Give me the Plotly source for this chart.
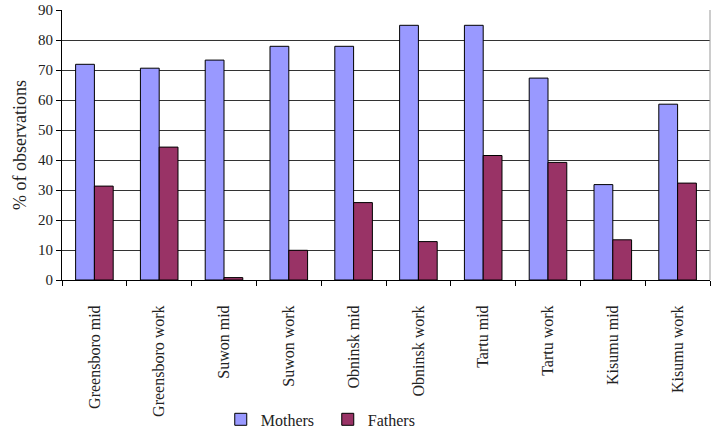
import plotly.graph_objects as go

categories = ["Greensboro mid", "Greensboro work", "Suwon mid", "Suwon work", "Obninsk mid",
              "Obninsk work", "Tartu mid", "Tartu work", "Kisumu mid", "Kisumu work"]
mothers = [71.9, 70.6, 73.3, 77.9, 77.9, 84.9, 84.9, 67.3, 31.8, 58.6]
fathers = [31.3, 44.3, 0.8, 9.9, 25.8, 12.8, 41.5, 39.2, 13.4, 32.3]

FONT = "Liberation Serif"

fig = go.Figure()
fig.add_trace(go.Bar(x=categories, y=mothers, name="Mothers",
                     marker=dict(color="#9999FF", line=dict(color="#000000", width=1))))
fig.add_trace(go.Bar(x=categories, y=fathers, name="Fathers",
                     marker=dict(color="#993366", line=dict(color="#000000", width=1))))

fig.update_layout(
    width=718, height=429,
    margin=dict(l=62, r=8, t=10, b=149),
    paper_bgcolor="white", plot_bgcolor="white",
    barmode="group", bargap=0.42, bargroupgap=0,
    font=dict(family=FONT, size=15, color="#222222"),
    showlegend=True,
    legend=dict(orientation="h", x=0.245, xanchor="left", yref="container", y=0.062,
                yanchor="top", font=dict(family=FONT, size=16), entrywidth=62,
                bgcolor="rgba(0,0,0,0)"),
    xaxis=dict(type="category", tickangle=-90, ticks="outside", tickson="boundaries",
               ticklen=5, tickcolor="#000", showline=True, linecolor="#000", linewidth=1,
               mirror=False, showgrid=False, automargin=False, ticklabelstandoff=18,
               tickfont=dict(family=FONT, size=16)),
    yaxis=dict(range=[0, 90], dtick=10, ticks="outside", ticklen=5, tickcolor="#000",
               showline=True, linecolor="#000", linewidth=1, showgrid=True,
               gridcolor="#333333", gridwidth=1, zeroline=False, automargin=False,
               title=dict(text="% of observations", font=dict(family=FONT, size=18), standoff=6),
               tickfont=dict(family=FONT, size=15)),
)
# right plot border (light gray)
fig.add_shape(type="line", xref="paper", yref="paper", x0=1, x1=1, y0=0, y1=1,
              line=dict(color="#999999", width=1))

fig.write_html("out.html")
